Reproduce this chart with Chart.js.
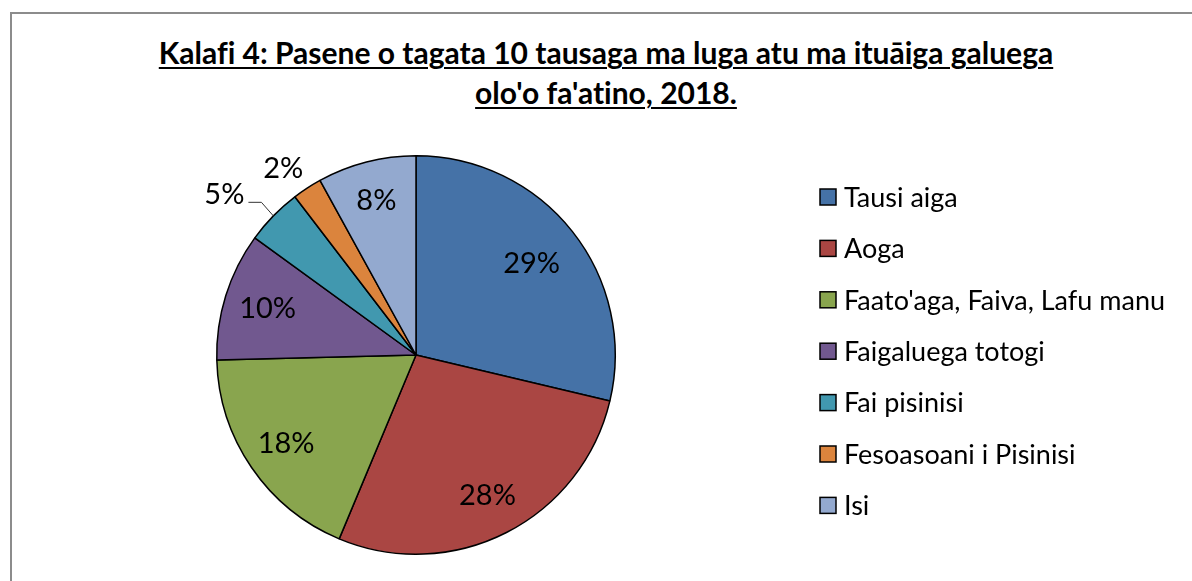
<!DOCTYPE html>
<html>
<head>
<meta charset="utf-8">
<script src="https://cdn.jsdelivr.net/npm/chart.js@4/dist/chart.umd.min.js"></script>
<style>
  html, body { margin: 0; padding: 0; background: #fff; }
  body { width: 1192px; height: 581px; position: relative; overflow: hidden; }
  .frame {
    position: absolute; left: 10px; top: 12px; width: 1300px; height: 700px;
    border-left: 2px solid #8c8c8c; border-top: 2px solid #8c8c8c;
  }
  .title {
    position: absolute; left: 0; width: 1212px; text-align: center;
    font-family: Lato, sans-serif; font-weight: bold; font-size: 30px;
    font-variant-ligatures: none;
    color: #000; text-decoration: underline; text-underline-offset: 3px;
    text-decoration-thickness: 2px; line-height: 40px;
  }
  canvas { position: absolute; left: 0; top: 0; }
</style>
</head>
<body>
<div class="frame"></div>
<div class="title" style="top:32px">Kalafi 4: Pasene o tagata 10 tausaga ma luga atu ma ituāiga galuega</div>
<div class="title" style="top:72px">olo'o fa'atino, 2018.</div>
<canvas id="pie" width="1192" height="581"></canvas>
<script>
// data
const categories = [
  "Tausi aiga",
  "Aoga",
  "Faato'aga, Faiva, Lafu manu",
  "Faigaluega totogi",
  "Fai pisinisi",
  "Fesoasoani i Pisinisi",
  "Isi",
];
const values = [28.7, 27.6, 18.3, 10.4, 4.6, 2.4, 8.0];
const colors = ["#4572A7", "#AA4643", "#89A54E", "#71588F", "#4198AF", "#DB843D", "#93A9CF"];
// label placement: radius factor and angle shift (radians)
const labelRadius = [0.74, 0.79, 0.79, 0.78, 1.255, 1.15, 0.8];
const labelShift = [0, 0, 0, 0, -0.075, -0.04, 0];

const FONT = "Lato, sans-serif";

const pctLabels = {
  id: "pctLabels",
  afterDatasetsDraw(chart) {
    const { ctx } = chart;
    const meta = chart.getDatasetMeta(0);
    const total = values.reduce((a, b) => a + b, 0);
    ctx.save();
    ctx.font = "29px " + FONT;
    ctx.fillStyle = "#000";
    ctx.textAlign = "center";
    ctx.textBaseline = "middle";
    meta.data.forEach((arc, i) => {
      const { x, y, startAngle, endAngle, outerRadius } = arc.getProps(
        ["x", "y", "startAngle", "endAngle", "outerRadius"], true);
      const mid = (startAngle + endAngle) / 2;
      const a = mid + labelShift[i];
      const lx = x + Math.cos(a) * outerRadius * labelRadius[i];
      const ly = y + Math.sin(a) * outerRadius * labelRadius[i];
      const txt = Math.round((values[i] / total) * 100) + "%";
      ctx.fillText(txt, lx, ly);
      // leader line for the small outside label
      if (i === 4) {
        const w = ctx.measureText(txt).width;
        const ex = x + Math.cos(mid) * outerRadius;
        const ey = y + Math.sin(mid) * outerRadius;
        ctx.beginPath();
        ctx.strokeStyle = "#333";
        ctx.lineWidth = 1;
        ctx.moveTo(lx + w / 2 + 4, ly + 8);
        ctx.lineTo(lx + w / 2 + 17, ly + 8);
        ctx.lineTo(ex, ey);
        ctx.stroke();
      }
    });
    ctx.restore();
  },
};

const sideLegend = {
  id: "sideLegend",
  afterDraw(chart) {
    const { ctx } = chart;
    ctx.save();
    ctx.font = "27px " + FONT;
    ctx.textBaseline = "middle";
    ctx.textAlign = "left";
    categories.forEach((name, i) => {
      const cy = 197 + i * 51.4;
      ctx.fillStyle = colors[i];
      ctx.fillRect(820, cy - 8, 16, 16);
      ctx.strokeStyle = "#000";
      ctx.lineWidth = 1.5;
      ctx.strokeRect(820, cy - 8, 16, 16);
      ctx.fillStyle = "#000";
      ctx.fillText(name, 844, cy + 1);
    });
    ctx.restore();
  },
};

new Chart(document.getElementById("pie"), {
  type: "pie",
  data: {
    labels: categories,
    datasets: [
      {
        data: values,
        backgroundColor: colors,
        borderColor: "#000000",
        borderWidth: 1.5,
      },
    ],
  },
  plugins: [pctLabels, sideLegend],
  options: {
    responsive: false,
    animation: false,
    layout: {
      padding: { left: 216, top: 155, right: 576, bottom: 26 },
    },
    plugins: {
      legend: { display: false },
      tooltip: { enabled: false },
      title: { display: false },
    },
  },
});
</script>
</body>
</html>
